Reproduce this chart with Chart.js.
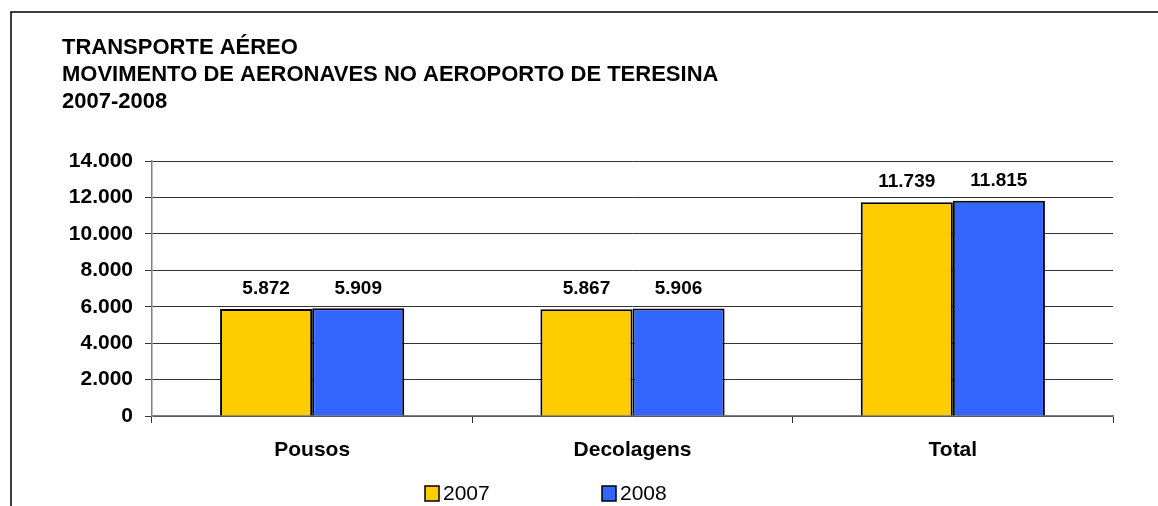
<!DOCTYPE html>
<html>
<head>
<meta charset="utf-8">
<script src="https://cdn.jsdelivr.net/npm/chart.js@4"></script>
<style>
  html, body { margin: 0; padding: 0; background: #fff; }
  #wrap { position: relative; width: 1158px; height: 506px; }
</style>
</head>
<body>
<div id="wrap"><canvas id="bar-chart"></canvas></div>
<script>
const categories = ["Pousos", "Decolagens", "Total"];
const seriesNames = ["2007", "2008"];
const values2007 = [5872, 5867, 11739];
const values2008 = [5909, 5906, 11815];
const yTicks = [0, 2000, 4000, 6000, 8000, 10000, 12000, 14000];
const titleLines = ["TRANSPORTE AÉREO", "MOVIMENTO DE AERONAVES NO AEROPORTO DE TERESINA", "2007-2008"];

const FONT = "'Liberation Sans', Arial, sans-serif";
const fmt = v => String(v).replace(/\B(?=(\d{3})+(?!\d))/g, ".");

// frame, titles, value labels and legend
const decor = {
    id: "decor",
    afterDraw(chart) {
        const ctx = chart.ctx;
        ctx.save();
        // frame (left + top only, as in the source)
        ctx.strokeStyle = "#000";
        ctx.lineWidth = 1.5;
        ctx.beginPath();
        ctx.moveTo(11, 506);
        ctx.lineTo(11, 12);
        ctx.lineTo(1158, 12);
        ctx.stroke();

        // titles
        ctx.fillStyle = "#000";
        ctx.font = "bold 22px " + FONT;
        ctx.textBaseline = "middle";
        ctx.textAlign = "left";
        titleLines.forEach((t, i) => ctx.fillText(t, 62, 48 + i * 27));

        // value labels
        ctx.font = "bold 19px " + FONT;
        ctx.textAlign = "center";
        chart.data.datasets.forEach((ds, di) => {
            chart.getDatasetMeta(di).data.forEach((bar, i) => {
                ctx.fillText(fmt(ds.data[i]), bar.x, bar.y - 20);
            });
        });

        // legend
        ctx.font = "21px " + FONT;
        ctx.textAlign = "left";
        const legendX = [425, 602];
        chart.data.datasets.forEach((ds, di) => {
            const x = legendX[di];
            ctx.fillStyle = ds.backgroundColor;
            ctx.fillRect(x, 486, 14, 15);
            ctx.strokeStyle = "#000";
            ctx.lineWidth = 1.5;
            ctx.strokeRect(x, 486, 14, 15);
            ctx.fillStyle = "#000";
            ctx.fillText(ds.label, x + 18, 494);
        });
        ctx.restore();
    }
};

Chart.register(decor);

const data = {
    labels: categories,
    datasets: [
        { label: seriesNames[0], data: values2007, backgroundColor: "#FFCC00", borderColor: "#000", borderWidth: 2 },
        { label: seriesNames[1], data: values2008, backgroundColor: "#3366FF", borderColor: "#000", borderWidth: 2 }
    ]
};

const config = {
    type: "bar",
    data: data,
    options: {
        responsive: false,
        animation: false,
        devicePixelRatio: 1,
        categoryPercentage: 0.575,
        barPercentage: 1,
        layout: { padding: { left: 0, top: 161, right: 45, bottom: 0 } },
        plugins: {
            legend: { display: false },
            title: { display: false },
            tooltip: { enabled: false }
        },
        scales: {
            x: {
                afterFit: s => { s.height = 90; },
                grid: { offset: true, drawOnChartArea: false, drawTicks: true, tickLength: 7, color: "#333" },
                border: { color: "#808080", width: 1.5 },
                ticks: { color: "#000", font: { family: FONT, size: 21, weight: "bold" }, padding: 15 }
            },
            y: {
                min: 0,
                max: 14000,
                afterFit: s => { s.width = 152; },
                afterBuildTicks: s => { s.ticks = yTicks.map(v => ({ value: v })); },
                grid: { color: "#333", tickLength: 7, lineWidth: 1 },
                border: { color: "#808080", width: 1.5 },
                ticks: {
                    color: "#000",
                    padding: 12,
                    font: { family: FONT, size: 21, weight: "bold" },
                    callback: v => fmt(v)
                }
            }
        }
    }
};

const canvas = document.getElementById("bar-chart");
canvas.width = 1158;
canvas.height = 506;
new Chart(canvas.getContext("2d"), config);
</script>
</body>
</html>
